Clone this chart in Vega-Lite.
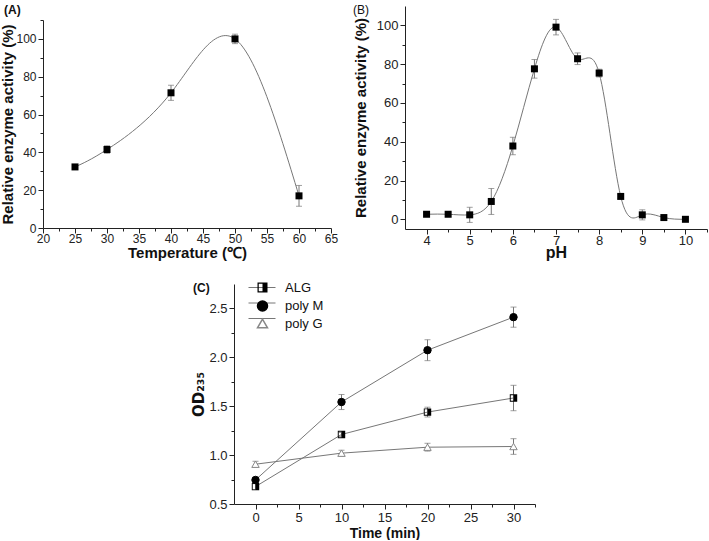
{
  "$schema": "https://vega.github.io/schema/vega-lite/v6.json",
  "padding": {"left": 0, "top": 4, "right": 0, "bottom": 0},
  "config": {
    "view": {"stroke": null},
    "font": "Liberation Sans",
    "axis": {"domainColor": "#222", "tickColor": "#222", "labelColor": "#222", "titleColor": "#111", "grid": false, "labelOverlap": false, "labelFlush": false, "titleFontWeight": "bold", "labelFont": "Liberation Sans", "titleFont": "Liberation Sans", "domainWidth": 1, "tickWidth": 1, "labelPadding": 2, "titlePadding": 2},
    "legend": {"labelFont": "Liberation Sans"}
  },
  "resolve": {"scale": {"color": "independent", "shape": "independent", "fill": "independent", "stroke": "independent"}},
  "datasets": {
    "A": [
      {"t": 25, "v": 32.3, "e": 1},
      {"t": 30, "v": 41.5, "e": 2},
      {"t": 40, "v": 71.5, "e": 4},
      {"t": 50, "v": 100, "e": 2.5},
      {"t": 60, "v": 17, "e": 5.5}
    ],
    "B": [
      {"p": 4, "v": 2.6, "e": 0.8},
      {"p": 4.5, "v": 2.6, "e": 0.8},
      {"p": 5, "v": 2.3, "e": 3.9},
      {"p": 5.5, "v": 9.2, "e": 6.7},
      {"p": 6, "v": 37.8, "e": 4.5},
      {"p": 6.5, "v": 77.6, "e": 4.8},
      {"p": 7, "v": 99.1, "e": 4},
      {"p": 7.5, "v": 82.8, "e": 3},
      {"p": 8, "v": 75.4, "e": 2},
      {"p": 8.5, "v": 11.8, "e": 1},
      {"p": 9, "v": 2.3, "e": 2.6},
      {"p": 9.5, "v": 0.9, "e": 1},
      {"p": 10, "v": 0, "e": 0.5}
    ],
    "C": [
      {"s": "ALG", "t": 0, "v": 0.678, "e": 0.03},
      {"s": "ALG", "t": 10, "v": 1.211, "e": 0.02},
      {"s": "ALG", "t": 20, "v": 1.44, "e": 0.05},
      {"s": "ALG", "t": 30, "v": 1.584, "e": 0.13},
      {"s": "poly M", "t": 0, "v": 0.746, "e": 0.02},
      {"s": "poly M", "t": 10, "v": 1.543, "e": 0.077},
      {"s": "poly M", "t": 20, "v": 2.073, "e": 0.107},
      {"s": "poly M", "t": 30, "v": 2.411, "e": 0.103},
      {"s": "poly G", "t": 0, "v": 0.907, "e": 0.03},
      {"s": "poly G", "t": 10, "v": 1.02, "e": 0.03},
      {"s": "poly G", "t": 20, "v": 1.081, "e": 0.04},
      {"s": "poly G", "t": 30, "v": 1.088, "e": 0.08}
    ]
  },
  "spacing": 21,
  "center": false,
  "vconcat": [
    {
      "spacing": 15,
      "align": "none",
      "hconcat": [
        {
          "data": {"name": "A"},
          "width": 288,
          "height": 222,
          "encoding": {
            "x": {"field": "t", "type": "quantitative", "scale": {"domain": [20, 65], "nice": false, "zero": false},
              "axis": {"title": "Temperature (℃)", "titleFontSize": 15, "labelFontSize": 12, "labelPadding": 0, "titlePadding": 1,
                "values": [20, 22.5, 25, 27.5, 30, 32.5, 35, 37.5, 40, 42.5, 45, 47.5, 50, 52.5, 55, 57.5, 60, 62.5, 65],
                "labelExpr": "datum.value % 5 == 0 ? datum.label : ''",
                "tickSize": {"condition": {"test": "datum.value % 5 == 0", "value": 5}, "value": 3}}},
            "y": {"field": "v", "type": "quantitative", "scale": {"domain": [0, 110], "nice": false, "range": [222, 14]},
              "axis": {"title": "Relative enzyme activity (%)", "titleFontSize": 15, "labelFontSize": 12, "titlePadding": 0, "titleY": 118,
                "values": [0, 10, 20, 30, 40, 50, 60, 70, 80, 90, 100, 110],
                "labelExpr": "datum.value % 20 == 0 ? datum.label : ''",
                "tickSize": {"condition": {"test": "datum.value % 20 == 0", "value": 5}, "value": 3}}}
          },
          "layer": [
            {"mark": {"type": "line", "interpolate": "natural", "color": "#777", "strokeWidth": 1}},
            {"mark": {"type": "errorbar", "ticks": {"size": 6, "thickness": 1}, "color": "#777", "thickness": 1},
              "encoding": {"yError": {"field": "e"}}},
            {"mark": {"type": "point", "shape": "square", "filled": true, "size": 49, "color": "#000", "opacity": 1}},
            {"transform": [{"filter": "datum.t == 25"}],
              "mark": {"type": "text", "text": "(A)", "align": "left", "baseline": "top", "dx": -39, "dy": -15, "fontSize": 12, "fontWeight": "bold", "font": "Liberation Sans", "color": "#111"},
              "encoding": {"x": {"datum": 20, "type": "quantitative"}, "y": {"datum": 110, "type": "quantitative"}}}
          ]
        },
        {
          "data": {"name": "B"},
          "width": 302,
          "height": 223,
          "encoding": {
            "x": {"field": "p", "type": "quantitative", "scale": {"domain": [3.5, 10.5], "nice": false, "zero": false},
              "axis": {"title": "pH", "titleFontSize": 16, "labelFontSize": 13, "labelPadding": 0, "titlePadding": -3,
                "values": [4, 4.5, 5, 5.5, 6, 6.5, 7, 7.5, 8, 8.5, 9, 9.5, 10, 10.5],
                "labelExpr": "datum.value % 1 == 0 ? format(datum.value, 'd') : ''",
                "tickSize": {"condition": {"test": "datum.value % 1 == 0", "value": 5}, "value": 3}}},
            "y": {"field": "v", "type": "quantitative", "scale": {"domain": [-5, 110], "nice": false, "zero": false},
              "axis": {"title": "Relative enzyme activity (%)", "titleFontSize": 15, "labelFontSize": 13, "titlePadding": 8,
                "values": [0, 10, 20, 30, 40, 50, 60, 70, 80, 90, 100],
                "labelExpr": "datum.value % 20 == 0 ? datum.label : ''",
                "tickSize": {"condition": {"test": "datum.value % 20 == 0", "value": 5}, "value": 3}}}
          },
          "layer": [
            {"mark": {"type": "line", "interpolate": "natural", "color": "#777", "strokeWidth": 1}},
            {"mark": {"type": "errorbar", "ticks": {"size": 6, "thickness": 1}, "color": "#777", "thickness": 1},
              "encoding": {"yError": {"field": "e"}}},
            {"mark": {"type": "point", "shape": "square", "filled": true, "size": 49, "color": "#000", "opacity": 1}},
            {"transform": [{"filter": "datum.p == 4"}],
              "mark": {"type": "text", "text": "(B)", "align": "left", "baseline": "top", "dx": -52, "dy": -1, "fontSize": 12, "fontWeight": "normal", "font": "Liberation Sans", "color": "#111"},
              "encoding": {"x": {"datum": 3.5, "type": "quantitative"}, "y": {"datum": 110, "type": "quantitative"}}}
          ]
        }
      ]
    },
    {
      "spacing": 12,
      "resolve": {"scale": {"color": "independent", "shape": "independent", "fill": "independent", "stroke": "independent"}},
      "hconcat": [
        {"data": {"values": []}, "mark": "point", "width": 136, "height": 10},
        {
          "data": {"name": "C"},
          "width": 301,
          "height": 220,
          "encoding": {
            "x": {"field": "t", "type": "quantitative", "scale": {"domain": [-2.5, 32.5], "nice": false, "zero": false},
              "axis": {"title": "Time (min)", "titleFontSize": 14, "labelFontSize": 13, "labelPadding": 2, "titlePadding": 2,
                "values": [0, 2.5, 5, 7.5, 10, 12.5, 15, 17.5, 20, 22.5, 25, 27.5, 30, 32.5],
                "labelExpr": "datum.value % 5 == 0 ? datum.label : ''",
                "tickSize": {"condition": {"test": "datum.value % 5 == 0", "value": 5}, "value": 3}}},
            "y": {"field": "v", "type": "quantitative", "scale": {"domain": [0.5, 2.75], "nice": false, "zero": false},
              "axis": {"title": "OD₂₃₅", "titleFont": "DejaVu Sans", "titleFontSize": 15, "labelFontSize": 13,
                "values": [0.5, 0.75, 1, 1.25, 1.5, 1.75, 2, 2.25, 2.5],
                "labelExpr": "(datum.value * 100) % 50 == 0 ? format(datum.value, '.1f') : ''",
                "tickSize": {"condition": {"test": "(datum.value * 100) % 50 == 0", "value": 5}, "value": 3}}}
          },
          "layer": [
            {"mark": {"type": "line", "strokeWidth": 1},
              "encoding": {
                "color": {"field": "s", "type": "nominal", "scale": {"domain": ["poly G", "poly M", "ALG"], "range": ["#777", "#777", "#777"]},
                  "legend": {"orient": "none", "legendX": 0, "legendY": -3, "padding": 0, "title": null, "symbolType": "M-3,0H3", "symbolSize": 81, "symbolStrokeWidth": 1, "symbolStrokeColor": "#777", "symbolFillColor": "transparent", "symbolOffset": 21.5, "labelExpr": "''", "rowPadding": 1.5, "labelFontSize": 13}}
              }},
            {"mark": {"type": "errorbar", "ticks": {"size": 6, "thickness": 1}, "color": "#777", "thickness": 1},
              "encoding": {"yError": {"field": "e"}, "detail": {"field": "s"}}},
            {"mark": {"type": "point", "opacity": 1, "strokeWidth": 1, "size": 55},
              "encoding": {
                "shape": {"field": "s", "type": "nominal", "scale": {"domain": ["ALG", "poly M", "poly G"], "range": ["M-1,-1H1V1H-1Z M-0.75,-0.75V0.75H0V-0.75Z", "circle", "triangle-up"]},
                  "legend": {"orient": "none", "legendX": 22, "legendY": -3, "title": null, "padding": 0, "rowPadding": 1.5, "labelFontSize": 13, "labelOffset": 16, "labelColor": "#111"}},
                "fill": {"field": "s", "type": "nominal", "scale": {"domain": ["ALG", "poly M", "poly G"], "range": ["#000", "#000", "#fff"]},
                  "legend": {"orient": "none", "legendX": 22, "legendY": -3, "title": null, "padding": 0, "rowPadding": 1.5, "labelFontSize": 13, "labelOffset": 16, "labelColor": "#111"}},
                "stroke": {"field": "s", "type": "nominal", "scale": {"domain": ["ALG", "poly M", "poly G"], "range": ["transparent", "#000", "#888"]},
                  "legend": {"orient": "none", "legendX": 22, "legendY": -3, "title": null, "padding": 0, "rowPadding": 1.5, "labelFontSize": 13, "labelOffset": 16, "labelColor": "#111"}}
              }},
            {"transform": [{"filter": "datum.s == 'ALG' && datum.t == 0"}],
              "mark": {"type": "text", "text": "(C)", "align": "left", "baseline": "top", "dx": -41, "dy": -1, "fontSize": 12, "fontWeight": "bold", "font": "Liberation Sans", "color": "#111"},
              "encoding": {"x": {"datum": -2.5, "type": "quantitative"}, "y": {"datum": 2.75, "type": "quantitative"}}}
          ]
        }
      ]
    }
  ]
}
